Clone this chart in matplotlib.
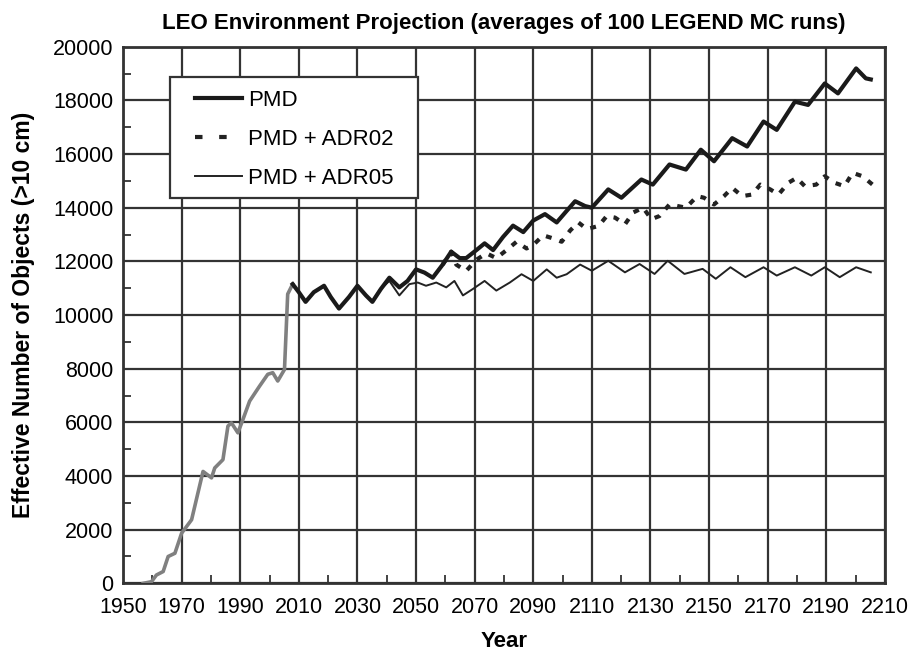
import matplotlib
matplotlib.use('Agg')
import matplotlib.pyplot as plt
from matplotlib.patches import Rectangle
from matplotlib.lines import Line2D
import numpy as np

plt.rcParams['font.family'] = ['Liberation Sans', 'DejaVu Sans']

# Historical environment (grey)
hist_year = [1956.9, 1959.7, 1961.4, 1963.7, 1965.4, 1967.7, 1970.0, 1973.4,
             1977.3, 1980.2, 1981.3, 1984.1, 1985.8, 1987.0, 1989.2, 1990.9,
             1993.2, 1995.5, 1996.6, 1999.4, 2001.1, 2002.8, 2005.1, 2006.2,
             2007.9]
hist_val = [0, 60, 310, 440, 1000, 1120, 1870, 2370,
            4170, 3930, 4300, 4610, 5860, 5980, 5610, 6100,
            6790, 7170, 7350, 7790, 7850, 7540, 7970, 10780,
            11150]

# PMD (thick)
pmd_year = [2007.9, 2010.0, 2012.3, 2015.1, 2018.6, 2020.9, 2023.7, 2027.1,
            2030.0, 2032.9, 2035.1, 2038.0, 2040.9, 2044.3, 2047.1, 2050.0,
            2052.9, 2055.7, 2059.1, 2062.0, 2064.9, 2067.1, 2070.6, 2073.4,
            2076.3, 2079.7, 2083.1, 2086.6, 2090.0, 2094.0, 2098.0, 2101.4,
            2104.3, 2107.7, 2110.0, 2115.6, 2120.1, 2126.9, 2130.8, 2136.5,
            2142.1, 2147.2, 2151.7, 2157.9, 2163.0, 2168.6, 2173.1, 2179.3,
            2183.8, 2189.5, 2194.0, 2200.2, 2203.5, 2205.2]
pmd_val = [11150, 10850, 10490, 10850, 11090, 10670, 10240, 10670,
           11090, 10730, 10490, 10970, 11390, 11030, 11270, 11700,
           11580, 11390, 11880, 12360, 12120, 12120, 12420, 12670,
           12420, 12910, 13330, 13090, 13520, 13760, 13450, 13880,
           14240, 14060, 14000, 14680, 14370, 15050, 14860, 15610,
           15420, 16160, 15730, 16590, 16280, 17210, 16900, 17950,
           17830, 18630, 18260, 19190, 18820, 18780]

# PMD + ADR02 (dotted)
adr02_year = [2059.1, 2062.0, 2063.7, 2067.1, 2070.6, 2074.0, 2077.4, 2080.9,
              2084.3, 2087.7, 2090.0, 2093.4, 2096.9, 2099.7, 2102.6, 2105.4,
              2108.3, 2112.3, 2115.1, 2117.9, 2121.3, 2124.1, 2127.5, 2130.3,
              2133.1, 2136.5, 2142.1, 2146.0, 2148.3, 2151.7, 2155.1, 2157.9,
              2161.3, 2164.7, 2167.5, 2170.9, 2173.7, 2177.1, 2179.9, 2182.7,
              2186.6, 2189.5, 2192.8, 2196.2, 2199.0, 2202.4, 2205.8]
adr02_val = [11880, 12360, 11880, 11640, 12060, 12300, 12120, 12420,
             12730, 12480, 12610, 12970, 12850, 12730, 13150, 13450,
             13200, 13320, 13690, 13630, 13380, 13820, 14000, 13570,
             13690, 14120, 14000, 14430, 14370, 14120, 14430, 14740,
             14430, 14490, 14860, 14680, 14490, 14930, 15110, 14800,
             14860, 15170, 14930, 14800, 15300, 15170, 14860]

# PMD + ADR05 (thin)
adr05_year = [2035.1, 2037.4, 2040.9, 2044.3, 2047.7, 2050.6, 2053.4, 2056.9,
              2060.3, 2063.1, 2066.0, 2069.4, 2073.4, 2077.4, 2082.0, 2086.0,
              2090.0, 2094.6, 2098.0, 2101.4, 2106.0, 2110.0, 2115.6, 2121.3,
              2126.3, 2131.4, 2135.9, 2141.6, 2147.8, 2152.3, 2157.3, 2162.4,
              2168.6, 2173.1, 2179.3, 2184.9, 2189.5, 2194.6, 2200.2, 2205.2]
adr05_val = [10490, 10910, 11270, 10730, 11150, 11210, 11090, 11210,
             11030, 11270, 10730, 10970, 11270, 10910, 11210, 11520,
             11270, 11700, 11390, 11520, 11880, 11650, 12020, 11590,
             11900, 11530, 12020, 11530, 11720, 11350, 11780, 11410,
             11780, 11470, 11780, 11470, 11780, 11410, 11780, 11590]

series_labels = ['PMD', 'PMD + ADR02', 'PMD + ADR05']

x_major = np.arange(1950, 2211, 20)
x_minor = np.arange(1960, 2210, 20)

fig = plt.figure(figsize=(9.08, 6.53), dpi=100)
ax = fig.add_axes([0.1355, 0.1067, 0.839, 0.8218])

ax.plot(hist_year, hist_val, color='#808080', lw=2.6, zorder=3,
        solid_joinstyle='round')
ax.plot(adr05_year, adr05_val, color='#222222', lw=1.4, zorder=4,
        solid_joinstyle='round')
ax.plot(adr02_year, adr02_val, color='#222222', lw=3.0, zorder=4,
        dashes=(1.4, 2.0))
ax.plot(pmd_year, pmd_val, color='#1a1a1a', lw=3.0, zorder=5,
        solid_joinstyle='round')

ax.set_xlim(1950, 2210)
ax.set_ylim(0, 20000)
ax.set_xticks(x_major)
ax.set_xticks(x_minor, minor=True)
ax.set_yticks(np.arange(0, 20001, 2000))
ax.set_yticks(np.arange(1000, 20000, 2000), minor=True)
ax.tick_params(which='both', direction='in', labelsize=15.5, color='#222222')
ax.tick_params(which='major', length=0)
ax.tick_params(axis='x', which='major', pad=10)
ax.tick_params(axis='y', which='major', pad=7)
ax.tick_params(which='minor', length=6, width=1.2)
ax.grid(which='major', color='#333333', lw=1.6)
for s in ax.spines.values():
    s.set_linewidth(2.0)
    s.set_color('#333333')

ax.set_title('LEO Environment Projection (averages of 100 LEGEND MC runs)',
             fontsize=16, fontweight='bold', pad=13)
ax.set_xlabel('Year', fontsize=16, fontweight='bold', labelpad=9)
ax.set_ylabel('Effective Number of Objects (>10 cm)', fontsize=16.5,
              fontweight='bold', labelpad=13)

# legend box drawn by hand so the padding matches
ax.add_patch(Rectangle((0.0617, 0.718), 0.3253, 0.2255, transform=ax.transAxes,
                       facecolor='white', edgecolor='#333333', lw=1.6,
                       zorder=6))
handles = [
    Line2D([], [], color='#1a1a1a', lw=3.0),
    Line2D([], [], color='#222222', lw=3.0, dashes=(1.8, 4.0)),
    Line2D([], [], color='#222222', lw=1.4),
]
leg = ax.legend(handles, series_labels, loc='upper left',
                bbox_to_anchor=(0.095, 0.919), fontsize=16, frameon=False,
                handlelength=2.1, handletextpad=0.25, labelspacing=0.8,
                borderpad=0, borderaxespad=0)
leg.set_zorder(7)

fig.savefig('out.png', dpi=100)
